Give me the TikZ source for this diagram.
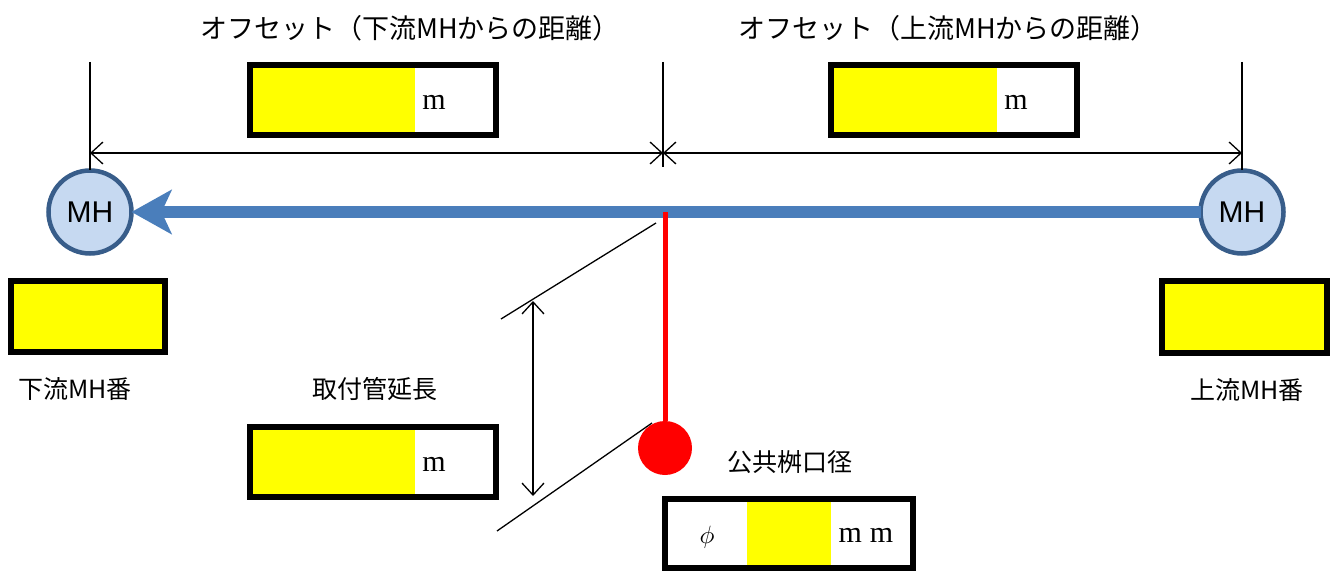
\documentclass[tikz,border=0pt]{standalone}
\usepackage{fontspec}
\setmainfont{Liberation Serif}
\newfontfamily\jp{Noto Sans CJK JP}
\newfontfamily\mhfont{Liberation Sans}
\usetikzlibrary{arrows.meta}
\definecolor{pipeblue}{HTML}{4A7EBB}
\definecolor{mhfill}{HTML}{C6D9F1}
\definecolor{mhline}{HTML}{385D8A}
\definecolor{boxyellow}{HTML}{FFFF00}
\definecolor{tapred}{HTML}{FF0000}
\begin{document}
\begin{tikzpicture}[x=1pt,y=-1pt,
  mh/.style={circle,draw=mhline,line width=4.5pt,fill=mhfill,minimum size=83pt,inner sep=0pt,outer sep=0pt,font=\mhfont\fontsize{30}{30}\selectfont},
  jplabel/.style={inner sep=0pt,font=\jp\fontsize{25}{25}\selectfont},
  jptitle/.style={inner sep=0pt,font=\jp\fontsize{27}{27}\selectfont},
  unitlabel/.style={inner sep=0pt,font=\fontsize{30}{30}\selectfont},
  barb/.tip={Straight Barb[length=12pt,width=22pt,line width=1.3pt]},
  dim/.style={line width=1.3pt,barb-barb},
  ext/.style={line width=1.3pt},
  frame/.style={draw=black,line width=6pt,inner sep=0pt,outer sep=0pt},
  pipe/.style={pipeblue,line width=12pt,-{Stealth[length=40pt,width=44pt,inset=10pt]}},
  redline/.style={tapred,line width=5pt},
  reddot/.style={circle,fill=tapred,minimum size=54pt,inner sep=0pt,outer sep=0pt}
]
\useasboundingbox (0,0) rectangle (1340,572);

% titles
\node[jptitle] (titleL) at (410,28) {オフセット（下流MHからの距離）};
\node[jptitle] (titleR) at (948,28) {オフセット（上流MHからの距離）};

% manholes
\node[mh] (mhL) at (90,212) {MH};
\node[mh] (mhR) at (1242,212) {MH};

% pipe
\draw[pipe] (mhR.west) -- (mhL.east);

% extension lines
\coordinate (extLtop) at (90,62);
\coordinate (extMtop) at (663,62);
\coordinate (extMbot) at (663,167);
\coordinate (extRtop) at (1242,62);
\draw[ext] (extLtop) -- (mhL.north);
\draw[ext] (extMtop) -- (extMbot);
\draw[ext] (extRtop) -- (mhR.north);

% dimension arrows
\coordinate (dL) at (90,153);
\coordinate (dM) at (663,153);
\coordinate (dR) at (1242,153);
\draw[dim] (dL) -- (dM);
\draw[dim] (dM) -- (dR);

% offset boxes
\fill[boxyellow] (250,65) rectangle (415,135);
\node[frame,minimum width=246pt,minimum height=70pt] (offL) at (373,100) {};
\node[unitlabel] (offLm) at (434,102) {m};
\fill[boxyellow] (831,65) rectangle (997,135);
\node[frame,minimum width=246pt,minimum height=70pt] (offR) at (954,100) {};
\node[unitlabel] (offRm) at (1016,102) {m};

% manhole number boxes
\node[frame,fill=boxyellow,minimum width=154pt,minimum height=71pt] (numL) at (88,316.5) {};
\node[frame,fill=boxyellow,minimum width=165pt,minimum height=72pt] (numR) at (1244.5,317) {};
\node[jplabel] (numLlab) at (75,389) {下流MH番};
\node[jplabel] (numRlab) at (1247,390) {上流MH番};

% service pipe
\coordinate (tap) at (665,212);
\node[reddot] (basin) at (665,448) {};
\draw[redline] (tap) -- (basin);

% length of service pipe
\coordinate (diagAa) at (501,319);
\coordinate (diagAb) at (656,223);
\coordinate (diagBa) at (497,531);
\coordinate (diagBb) at (652,423);
\draw[ext] (diagAa) -- (diagAb);
\draw[ext] (diagBa) -- (diagBb);
\coordinate (lenTop) at (533,301);
\coordinate (lenBot) at (533,496);
\draw[dim] (lenTop) -- (lenBot);
\node[jplabel] (lenlab) at (375,389) {取付管延長};
\fill[boxyellow] (250,427) rectangle (415,497);
\node[frame,minimum width=246pt,minimum height=70pt] (lenbox) at (373,462) {};
\node[unitlabel] (lenm) at (434,464) {m};

% basin diameter
\node[jplabel] (basinlab) at (790,462) {公共桝口径};
\fill[boxyellow] (747,499) rectangle (831,568);
\node[frame,minimum width=248pt,minimum height=69pt] (diabox) at (789,533.5) {};
\node[inner sep=0pt] (phi) at (707,537) {\scalebox{2.5}{$\phi$}};
\node[unitlabel] (mm) at (866,535) {m\kern8pt m};
\end{tikzpicture}
\end{document}
